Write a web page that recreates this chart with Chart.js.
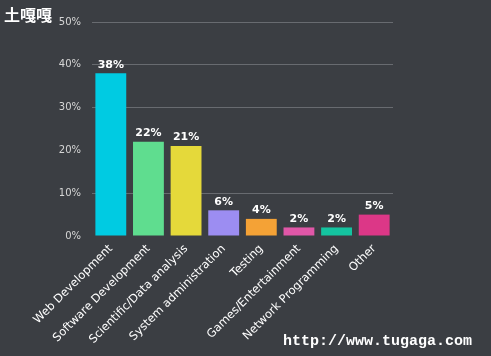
<!DOCTYPE html>
<html><head><meta charset="utf-8">
<script src="https://cdn.jsdelivr.net/npm/chart.js@4/dist/chart.umd.min.js"></script>
<style>
html,body{margin:0;padding:0;background:#3b3e43;}
#wrap{position:relative;width:491px;height:356px;}
#title{position:absolute;left:4px;top:2px;color:#fff;font:bold 16px "Noto Sans CJK SC",sans-serif;}
#wm{position:absolute;left:283px;top:333px;color:#fff;font:bold 15px "Liberation Mono",monospace;letter-spacing:0px;}
</style></head>
<body><div id="wrap"><canvas id="c" width="491" height="356"></canvas>
<div id="title">土嘎嘎</div><div id="wm">http://www.tugaga.com</div></div>
<script>
const categories = ["Web Development","Software Development","Scientific/Data analysis","System administration","Testing","Games/Entertainment","Network Programming","Other"];
const values = [38,22,21,6,4,2,2,5];
const barColors = ["#00cbe2","#5fdd8f","#e5d93a","#9c8df2","#f4a236","#e057a8","#14c4a0","#dc3787"];
const yTicks = [0,10,20,30,40,50];

const valueLabels = {
  id:'valueLabels',
  afterDatasetsDraw(chart){
    const ctx = chart.ctx;
    const meta = chart.getDatasetMeta(0);
    ctx.save();
    ctx.fillStyle = '#ffffff';
    ctx.font = 'bold 11px "DejaVu Sans", sans-serif';
    ctx.textAlign = 'center';
    ctx.textBaseline = 'bottom';
    meta.data.forEach((bar,i)=>{
      ctx.fillText(values[i] + '%', bar.x, bar.y - 3);
    });
    ctx.restore();
  }
};

new Chart(document.getElementById('c'), {
  type:'bar',
  data:{labels:categories, datasets:[{data:values, backgroundColor:barColors, borderWidth:0, categoryPercentage:0.82, barPercentage:1}]},
  options:{
    responsive:false, animation:false,
    layout:{padding:{left:0,right:98,top:22,bottom:0}},
    plugins:{legend:{display:false}, tooltip:{enabled:false}},
    scales:{
      x:{
        grid:{display:false, drawTicks:false},
        border:{display:false},
        ticks:{color:'#ffffff', font:{family:'"DejaVu Sans", sans-serif', size:11.5}, minRotation:45, maxRotation:45, padding:6, autoSkip:false},
        afterFit(s){ s.height = 120; }
      },
      y:{
        min:0, max:50,
        afterBuildTicks(s){ s.ticks = yTicks.map(v=>({value:v})); },
        grid:{color:(c)=> (c.tick && (c.tick.value===0 || c.tick.value===20)) ? 'rgba(0,0,0,0)' : '#686b70', lineWidth:1, drawTicks:false},
        border:{display:false},
        ticks:{color:'#d6d6d6', font:{family:'"DejaVu Sans", sans-serif', size:10}, padding:11, callback:(v)=>v+'%'},
        afterFit(s){ s.width = 92; }
      }
    }
  },
  plugins:[valueLabels]
});
</script>
</body></html>
